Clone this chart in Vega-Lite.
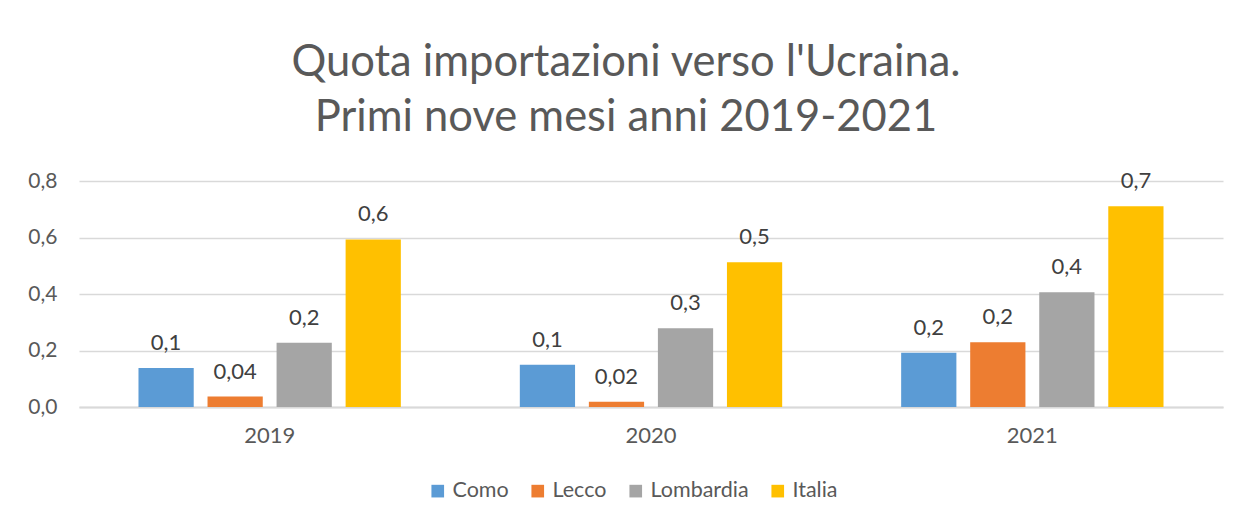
{
  "$schema": "https://vega.github.io/schema/vega-lite/v6.json",
  "width": 1144,
  "height": 226,
  "autosize": {"type": "none"},
  "padding": {"left": 79, "top": 181, "right": 19, "bottom": 116},
  "background": "white",
  "config": {
    "locale": {"number": {"decimal": ",", "thousands": ".", "grouping": [3], "currency": ["€", ""]}},
    "view": {"stroke": null},
    "font": "Lato"
  },
  "title": {
    "text": ["Quota importazioni verso l'Ucraina.", "Primi nove mesi anni 2019-2021"],
    "fontSize": 43.5,
    "font": "Lato",
    "fontWeight": "normal",
    "color": "#595959",
    "lineHeight": 55,
    "dx": -25,
    "offset": 30
  },
  "data": {
    "values": [
      {"anno": "2019", "area": "Como", "quota": 0.138, "label": "0,1"},
      {"anno": "2019", "area": "Lecco", "quota": 0.037, "label": "0,04"},
      {"anno": "2019", "area": "Lombardia", "quota": 0.227, "label": "0,2"},
      {"anno": "2019", "area": "Italia", "quota": 0.593, "label": "0,6"},
      {"anno": "2020", "area": "Como", "quota": 0.150, "label": "0,1"},
      {"anno": "2020", "area": "Lecco", "quota": 0.019, "label": "0,02"},
      {"anno": "2020", "area": "Lombardia", "quota": 0.279, "label": "0,3"},
      {"anno": "2020", "area": "Italia", "quota": 0.512, "label": "0,5"},
      {"anno": "2021", "area": "Como", "quota": 0.192, "label": "0,2"},
      {"anno": "2021", "area": "Lecco", "quota": 0.229, "label": "0,2"},
      {"anno": "2021", "area": "Lombardia", "quota": 0.406, "label": "0,4"},
      {"anno": "2021", "area": "Italia", "quota": 0.711, "label": "0,7"}
    ]
  },
  "encoding": {
    "x": {
      "field": "anno",
      "type": "nominal",
      "scale": {"paddingInner": 0.312, "paddingOuter": 0.156},
      "axis": {
        "title": null,
        "labelAngle": 0,
        "ticks": false,
        "domain": true,
        "domainColor": "#d9d9d9",
        "domainWidth": 2,
        "labelPadding": 18,
        "labelFontSize": 22,
        "labelColor": "#595959",
        "labelFont": "Lato"
      }
    },
    "xOffset": {
      "field": "area",
      "type": "nominal",
      "sort": ["Como", "Lecco", "Lombardia", "Italia"],
      "scale": {"paddingInner": 0.2, "paddingOuter": 0}
    },
    "y": {
      "field": "quota",
      "type": "quantitative",
      "scale": {"domain": [0, 0.8], "nice": false},
      "axis": {
        "title": null,
        "values": [0, 0.2, 0.4, 0.6, 0.8],
        "format": ".1f",
        "grid": true,
        "gridColor": "#d9d9d9",
        "gridWidth": 1.3,
        "ticks": false,
        "domain": false,
        "labelPadding": 22,
        "labelFontSize": 21,
        "labelColor": "#595959",
        "labelFont": "Lato"
      }
    }
  },
  "layer": [
    {
      "mark": {"type": "bar"},
      "encoding": {
        "color": {
          "field": "area",
          "type": "nominal",
          "sort": ["Como", "Lecco", "Lombardia", "Italia"],
          "scale": {
            "domain": ["Como", "Lecco", "Lombardia", "Italia"],
            "range": ["#5B9BD5", "#ED7D31", "#A5A5A5", "#FFC000"]
          },
          "legend": {
            "title": null,
            "orient": "none",
            "legendX": 348,
            "legendY": 299,
            "direction": "horizontal",
            "symbolType": "square",
            "symbolSize": 160,
            "symbolStrokeWidth": 0,
            "labelFontSize": 21.5,
            "labelColor": "#595959",
            "labelFont": "Lato",
            "labelOffset": 4,
            "columnPadding": 18
          }
        }
      }
    },
    {
      "mark": {"type": "text", "dy": -18, "baseline": "alphabetic", "fontSize": 22, "color": "#404040", "font": "Lato"},
      "encoding": {"text": {"field": "label", "type": "nominal"}}
    }
  ]
}
